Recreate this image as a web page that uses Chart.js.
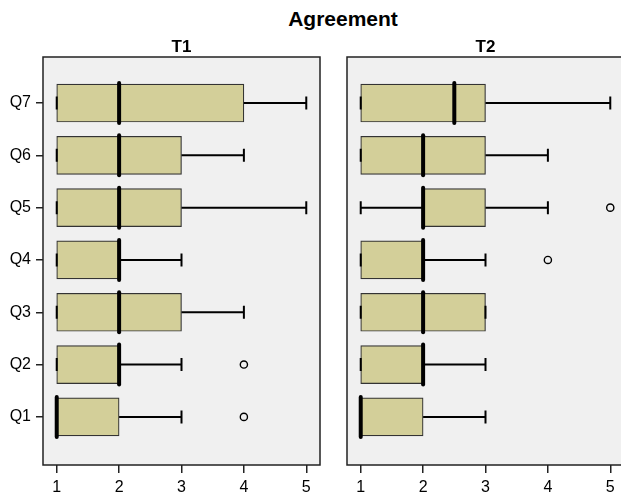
<!DOCTYPE html>
<html>
<head>
<meta charset="utf-8">
<script src="https://cdn.jsdelivr.net/npm/chart.js@4/dist/chart.umd.min.js"></script>
<style>
  html, body { margin: 0; padding: 0; background: #ffffff; overflow: hidden; width: 621px; height: 496px; }
  #title { position: absolute; left: 0; top: 8px; width: 686px; text-align: center;
           font-family: "Liberation Sans", Arial, sans-serif; font-weight: bold; font-size: 21px;
           line-height: 21px; color: #000; }
  canvas { position: absolute; top: 0; }
  #c1 { left: 0; }
  #c2 { left: 330px; }
</style>
</head>
<body>
<div id="title">Agreement</div>
<canvas id="c1" width="330" height="496"></canvas>
<canvas id="c2" width="300" height="496"></canvas>
<script>
// Questions on the vertical axis (Q1 at the bottom)
const questions = ['Q1', 'Q2', 'Q3', 'Q4', 'Q5', 'Q6', 'Q7'];
const xTicks = [1, 2, 3, 4, 5];

// Five-number summaries per question, time point T1
const t1Low    = [1, 1, 1, 1, 1, 1, 1];
const t1Q1     = [1, 1, 1, 1, 1, 1, 1];
const t1Median = [1, 2, 2, 2, 2, 2, 2];
const t1Q3     = [2, 2, 3, 2, 3, 3, 4];
const t1High   = [3, 3, 4, 3, 5, 4, 5];
const t1Outliers = [[4], [4], [], [], [], [], []];

// Five-number summaries per question, time point T2
const t2Low    = [1, 1, 1, 1, 1, 1, 1];
const t2Q1     = [1, 1, 1, 1, 2, 1, 1];
const t2Median = [1, 2, 2, 2, 2, 2, 2.5];
const t2Q3     = [2, 2, 3, 2, 3, 3, 3];
const t2High   = [3, 3, 3, 3, 4, 4, 5];
const t2Outliers = [[], [], [], [4], [5], [], []];

const FONT = '"Liberation Sans", Arial, sans-serif';

// Whiskers, caps, medians, panel background/border and strip label
const boxPlotPlugin = {
  id: 'boxPlot',
  beforeDraw(chart) {
    const { ctx, chartArea: a } = chart;
    ctx.save();
    ctx.fillStyle = '#f0f0f0';
    ctx.fillRect(a.left, a.top, a.right - a.left, a.bottom - a.top);
    ctx.restore();
  },
  afterDatasetsDraw(chart) {
    const s = chart.options.plugins.boxPlot;
    const { ctx } = chart;
    const xs = chart.scales.x, ys = chart.scales.y;
    const medH = 40, capH = 13;
    ctx.save();
    ctx.strokeStyle = '#000';
    ctx.lineWidth = 2;
    s.q1.forEach((q1, i) => {
      const y = ys.getPixelForValue(i + 1);
      const pLow = xs.getPixelForValue(s.low[i]);
      const pQ1 = xs.getPixelForValue(q1);
      const pQ3 = xs.getPixelForValue(s.q3[i]);
      const pHigh = xs.getPixelForValue(s.high[i]);
      ctx.lineCap = 'butt';
      ctx.beginPath();
      if (pLow < pQ1) { ctx.moveTo(pLow, y); ctx.lineTo(pQ1, y); }
      if (pHigh > pQ3) { ctx.moveTo(pQ3, y); ctx.lineTo(pHigh, y); }
      ctx.moveTo(pLow, y - capH / 2); ctx.lineTo(pLow, y + capH / 2);
      ctx.moveTo(pHigh, y - capH / 2); ctx.lineTo(pHigh, y + capH / 2);
      ctx.stroke();
      // median
      const pMed = xs.getPixelForValue(s.median[i]);
      ctx.save();
      ctx.lineWidth = 4;
      ctx.lineCap = 'round';
      ctx.beginPath();
      ctx.moveTo(pMed, y - medH / 2);
      ctx.lineTo(pMed, y + medH / 2);
      ctx.stroke();
      ctx.restore();
    });
    ctx.restore();
  },
  afterDraw(chart) {
    const s = chart.options.plugins.boxPlot;
    const { ctx, chartArea: a } = chart;
    ctx.save();
    ctx.strokeStyle = '#222';
    ctx.lineWidth = 1.5;
    ctx.strokeRect(a.left, a.top, a.right - a.left, a.bottom - a.top);
    ctx.fillStyle = '#000';
    ctx.font = 'bold 17px ' + FONT;
    ctx.textAlign = 'center';
    ctx.textBaseline = 'alphabetic';
    ctx.fillText(s.strip, (a.left + a.right) / 2, 52);
    ctx.restore();
  }
};

function makePanel(canvasId, strip, low, q1, median, q3, high, outliers, showYLabels, yWidth, padRight) {
  const boxes = q1.map((v, i) => ({ x: [v, q3[i]], y: i + 1 }));
  const points = [];
  outliers.forEach((list, i) => list.forEach(v => points.push({ x: v, y: i + 1 })));
  return new Chart(document.getElementById(canvasId), {
    type: 'bar',
    data: {
      datasets: [
        {
          type: 'bar',
          indexAxis: 'y',
          data: boxes,
          backgroundColor: '#d3cf99',
          borderColor: '#333333',
          borderWidth: 1.2,
          borderSkipped: false,
          barThickness: 38
        },
        {
          type: 'scatter',
          data: points,
          pointRadius: 3.6,
          pointBorderWidth: 1.4,
          borderColor: '#000',
          backgroundColor: 'rgba(0,0,0,0)',
          pointBackgroundColor: 'rgba(0,0,0,0)',
          pointBorderColor: '#000'
        }
      ]
    },
    options: {
      responsive: false,
      animation: false,
      devicePixelRatio: 1,
      layout: { padding: { top: 57, bottom: 0, left: 0, right: padRight } },
      plugins: {
        legend: { display: false },
        tooltip: { enabled: false },
        boxPlot: { strip, low, q1, median, q3, high }
      },
      scales: {
        x: {
          type: 'linear',
          position: 'bottom',
          offset: false,
          min: 0.78,
          max: 5.22,
          afterBuildTicks: sc => { sc.ticks = xTicks.map(v => ({ value: v })); },
          afterFit: sc => { sc.height = 31; },
          grid: { offset: false, drawOnChartArea: false, drawTicks: true, tickLength: 8, color: '#222', lineWidth: 1.5 },
          border: { display: false },
          ticks: { color: '#000', font: { family: FONT, size: 16 }, padding: 5, maxRotation: 0 }
        },
        y: {
          type: 'linear',
          position: 'left',
          offset: false,
          min: 0.08,
          max: 7.88,
          afterBuildTicks: sc => { sc.ticks = questions.map((q, i) => ({ value: i + 1 })); },
          afterFit: sc => { sc.width = yWidth; },
          grid: { offset: false, drawOnChartArea: false, drawTicks: showYLabels, tickLength: 7, color: '#222', lineWidth: 1.5 },
          border: { display: false },
          ticks: {
            display: showYLabels,
            color: '#000', font: { family: FONT, size: 16 }, padding: 5,
            callback: v => questions[v - 1]
          }
        }
      }
    },
    plugins: [boxPlotPlugin]
  });
}

makePanel('c1', 'T1', t1Low, t1Q1, t1Median, t1Q3, t1High, t1Outliers, true, 43, 10);
makePanel('c2', 'T2', t2Low, t2Q1, t2Median, t2Q3, t2High, t2Outliers, false, 17, 6);
</script>
</body>
</html>
